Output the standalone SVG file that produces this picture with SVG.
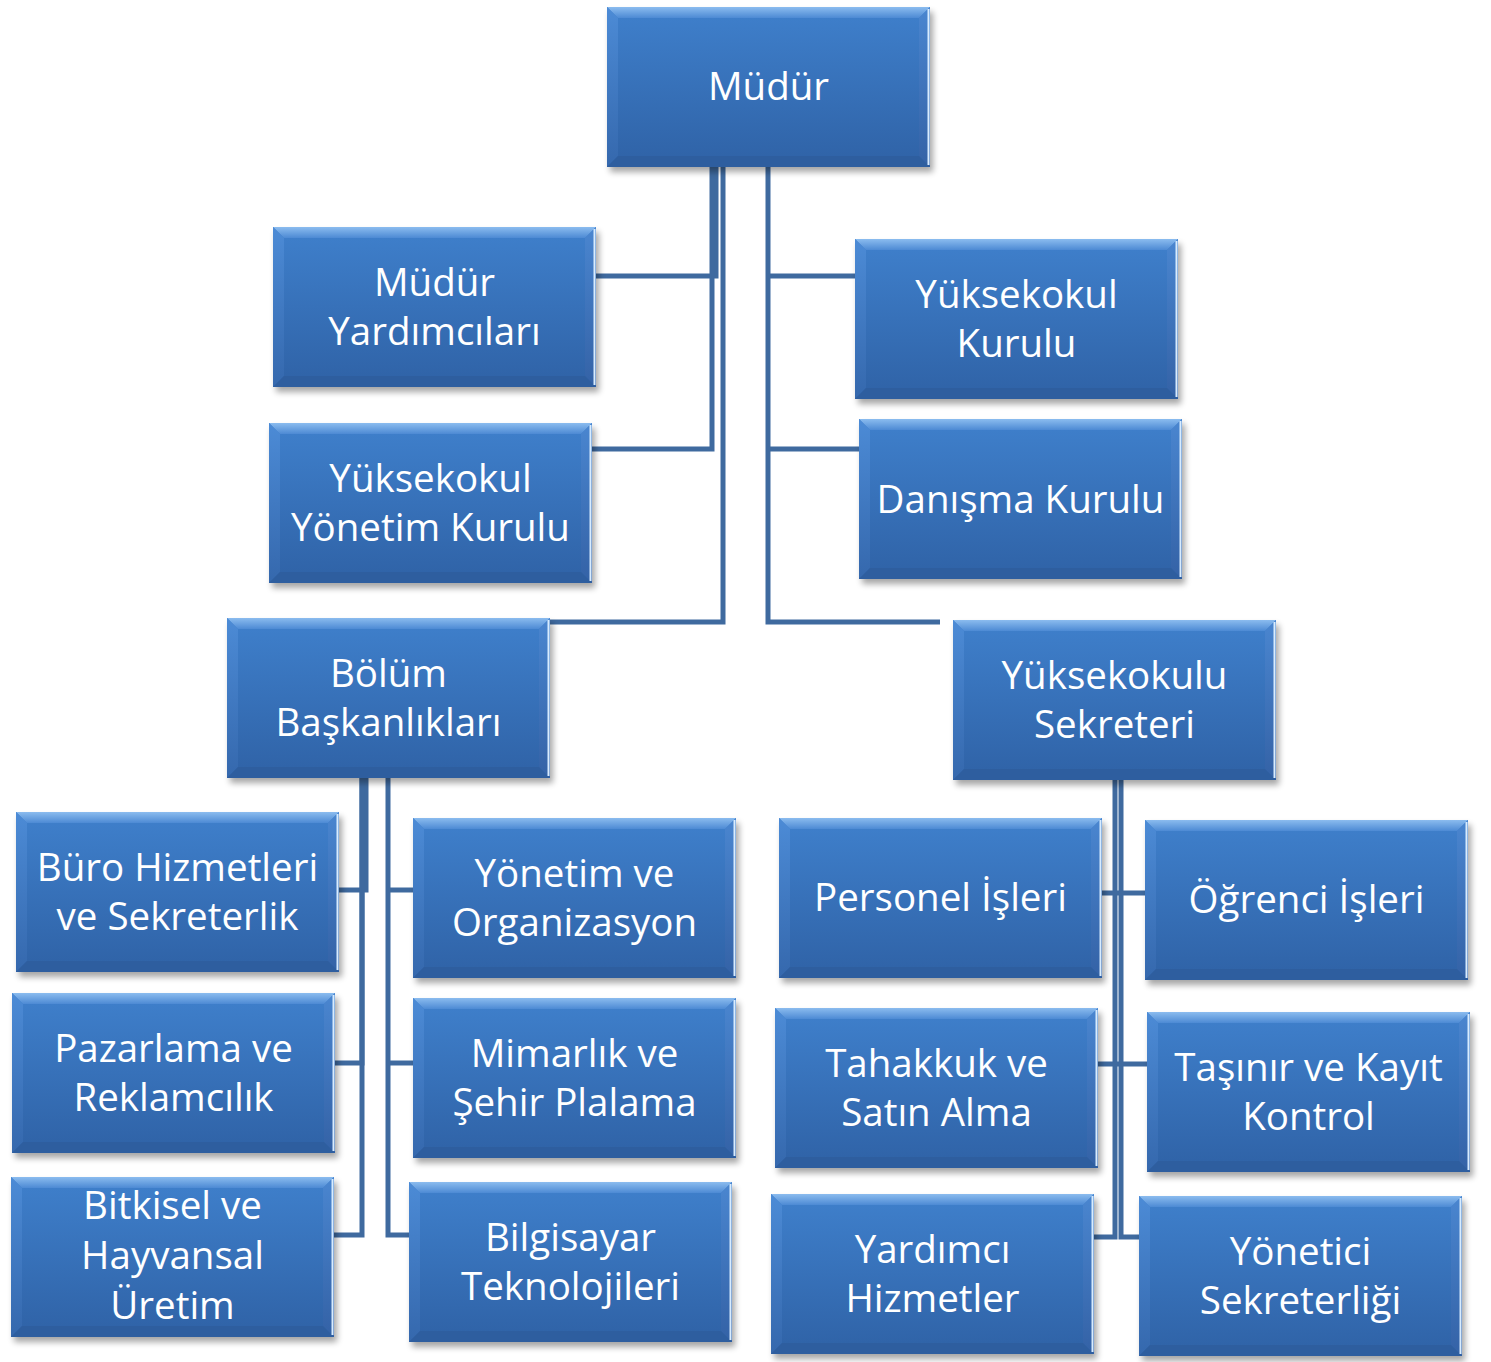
<svg xmlns="http://www.w3.org/2000/svg" xmlns:xlink="http://www.w3.org/1999/xlink" width="1491" height="1362" viewBox="0 0 1491 1362">
<defs>
<linearGradient id="gMain" x1="0" y1="0" x2="0" y2="1">
<stop offset="0" stop-color="#3f80cc"/>
<stop offset="1" stop-color="#2f62a6"/>
</linearGradient>
<linearGradient id="gTop" x1="0" y1="0" x2="0" y2="1">
<stop offset="0" stop-color="#8bbcef"/>
<stop offset="1" stop-color="#4d8ad4"/>
</linearGradient>
<linearGradient id="gLeft" x1="0" y1="0" x2="0" y2="1">
<stop offset="0" stop-color="#4c8bd6"/>
<stop offset="1" stop-color="#3568ad"/>
</linearGradient>
<linearGradient id="gRight" x1="0" y1="0" x2="0" y2="1">
<stop offset="0" stop-color="#4a86d0"/>
<stop offset="1" stop-color="#3462a6"/>
</linearGradient>
<filter id="sh" x="-10%" y="-10%" width="120%" height="130%">
<feGaussianBlur stdDeviation="3"/>
</filter>
<g id="box">
<rect x="3" y="5" width="323" height="160" fill="#000" opacity="0.35" filter="url(#sh)"/>
<rect x="0" y="0" width="323" height="160" fill="url(#gMain)"/>
<polygon points="0,0 323,0 312,11 11,11" fill="url(#gTop)"/>
<polygon points="0,0 11,11 11,149 0,160" fill="url(#gLeft)"/>
<polygon points="323,0 323,160 312,149 312,11" fill="url(#gRight)"/>
<polygon points="0,160 323,160 312,149 11,149" fill="#2e5e9f"/>
<line x1="321.5" y1="2" x2="321.5" y2="158" stroke="#d8ecff" stroke-width="2"/>
</g>
</defs>
<style>
.lbl{font-family:"Open Sans","Noto Sans","DejaVu Sans",sans-serif;font-size:38.5px;fill:#ffffff;text-anchor:middle}
.con{fill:none;stroke:#3f6a9f;stroke-width:5}
</style>
<rect width="1491" height="1362" fill="#ffffff"/>
<g id="connectors">
<path class="con" d="M716,167 V276 H596"/>
<path class="con" d="M712,167 V449 H592"/>
<path class="con" d="M723,167 V622 H550"/>
<path class="con" d="M768,167 V622 H940"/>
<path class="con" d="M768,276 H855"/>
<path class="con" d="M768,449 H859"/>
<path class="con" d="M366,778 V890 H339"/>
<path class="con" d="M362,778 V1063 H335"/>
<path class="con" d="M362,778 V1235 H333"/>
<path class="con" d="M388,778 V1235 H409"/>
<path class="con" d="M388,890 H413"/>
<path class="con" d="M388,1063 H413"/>
<path class="con" d="M1115,780 V1237 H1094"/>
<path class="con" d="M1121,780 V1237 H1139"/>
<path class="con" d="M1102,893 H1145"/>
<path class="con" d="M1098,1064 H1147"/>
</g>
<g id="n-mudur"><use xlink:href="#box" x="607" y="7"/><text class="lbl" x="768.5" y="100">Müdür</text></g>
<g id="n-mudur-yard"><use xlink:href="#box" x="273" y="227"/><text class="lbl" x="434.5" y="296">Müdür</text><text class="lbl" x="434.5" y="345">Yardımcıları</text></g>
<g id="n-yonetim-kurulu"><use xlink:href="#box" x="269" y="423"/><text class="lbl" x="430.5" y="492">Yüksekokul</text><text class="lbl" x="430.5" y="541">Yönetim Kurulu</text></g>
<g id="n-yuksekokul-kurulu"><use xlink:href="#box" x="855" y="239"/><text class="lbl" x="1016.5" y="308">Yüksekokul</text><text class="lbl" x="1016.5" y="357">Kurulu</text></g>
<g id="n-danisma"><use xlink:href="#box" x="859" y="419"/><text class="lbl" x="1020.5" y="513">Danışma Kurulu</text></g>
<g id="n-bolum"><use xlink:href="#box" x="227" y="618"/><text class="lbl" x="388.5" y="687">Bölüm</text><text class="lbl" x="388.5" y="736">Başkanlıkları</text></g>
<g id="n-sekreter"><use xlink:href="#box" x="953" y="620"/><text class="lbl" x="1114.5" y="689">Yüksekokulu</text><text class="lbl" x="1114.5" y="738">Sekreteri</text></g>
<g id="n-buro"><use xlink:href="#box" x="16" y="812"/><text class="lbl" x="177.5" y="881">Büro Hizmetleri</text><text class="lbl" x="177.5" y="930">ve Sekreterlik</text></g>
<g id="n-pazarlama"><use xlink:href="#box" x="12" y="993"/><text class="lbl" x="173.5" y="1062">Pazarlama ve</text><text class="lbl" x="173.5" y="1111">Reklamcılık</text></g>
<g id="n-bitkisel"><use xlink:href="#box" x="11" y="1177"/><text class="lbl" x="172.5" y="1219">Bitkisel ve</text><text class="lbl" x="172.5" y="1269">Hayvansal</text><text class="lbl" x="172.5" y="1319">Üretim</text></g>
<g id="n-yonetim-org"><use xlink:href="#box" x="413" y="818"/><text class="lbl" x="574.5" y="887">Yönetim ve</text><text class="lbl" x="574.5" y="936">Organizasyon</text></g>
<g id="n-mimarlik"><use xlink:href="#box" x="413" y="998"/><text class="lbl" x="574.5" y="1067">Mimarlık ve</text><text class="lbl" x="574.5" y="1116">Şehir Plalama</text></g>
<g id="n-bilgisayar"><use xlink:href="#box" x="409" y="1182"/><text class="lbl" x="570.5" y="1251">Bilgisayar</text><text class="lbl" x="570.5" y="1300">Teknolojileri</text></g>
<g id="n-personel"><use xlink:href="#box" x="779" y="818"/><text class="lbl" x="940.5" y="911">Personel İşleri</text></g>
<g id="n-tahakkuk"><use xlink:href="#box" x="775" y="1008"/><text class="lbl" x="936.5" y="1077">Tahakkuk ve</text><text class="lbl" x="936.5" y="1126">Satın Alma</text></g>
<g id="n-yardimci"><use xlink:href="#box" x="771" y="1194"/><text class="lbl" x="932.5" y="1263">Yardımcı</text><text class="lbl" x="932.5" y="1312">Hizmetler</text></g>
<g id="n-ogrenci"><use xlink:href="#box" x="1145" y="820"/><text class="lbl" x="1306.5" y="913">Öğrenci İşleri</text></g>
<g id="n-tasinir"><use xlink:href="#box" x="1147" y="1012"/><text class="lbl" x="1308.5" y="1081">Taşınır ve Kayıt</text><text class="lbl" x="1308.5" y="1130">Kontrol</text></g>
<g id="n-yonetici"><use xlink:href="#box" x="1139" y="1196"/><text class="lbl" x="1300.5" y="1265">Yönetici</text><text class="lbl" x="1300.5" y="1314">Sekreterliği</text></g>
</svg>
